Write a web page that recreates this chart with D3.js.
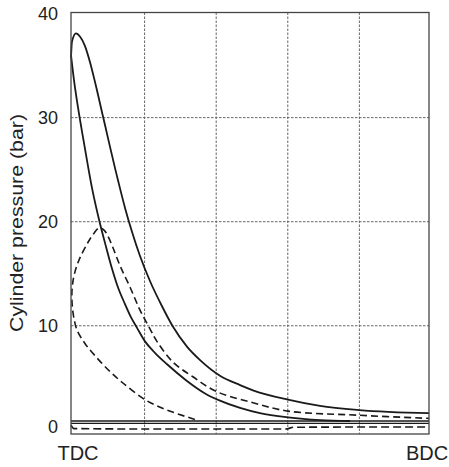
<!DOCTYPE html>
<html>
<head>
<meta charset="utf-8">
<script src="https://cdn.jsdelivr.net/npm/d3@7"></script>
<style>
  body { margin: 0; background: #fff; }
  svg { display: block; font-family: "Liberation Sans", Arial, sans-serif; }
</style>
</head>
<body>
<div id="chart"></div>
<script>
/* Crank angle (deg after TDC) and cylinder pressure (bar) */

// upper solid curve
const outerAngle = [0, 0.5, 2.5, 4.5, 7, 9.6, 12.1, 16.1, 23.6, 27.2, 30.7, 34.7, 39.7, 45.7, 51.3, 58.3, 64.9, 74.9, 85, 91.5, 109.1, 125.2, 144.8, 180];
const outerPressure = [35.8, 37.3, 38.1, 37.8, 36.9, 35.3, 33.4, 30.1, 24.0, 21.3, 19.0, 16.7, 14.3, 11.9, 9.9, 8.0, 6.7, 5.2, 4.3, 3.8, 2.9, 2.3, 1.9, 1.6];

// lower solid curve
const innerAngle = [0, 1.5, 3.5, 6.5, 10.6, 14.6, 17.6, 20.6, 23.6, 27.1, 30.2, 33.2, 37.2, 42.2, 48.3, 58.3, 67.4, 74.9, 85, 95, 109.1, 125.2, 140.3];
const innerPressure = [36.0, 33.6, 31.0, 27.6, 23.2, 19.8, 17.6, 15.5, 13.7, 12.1, 10.8, 9.8, 8.5, 7.4, 6.3, 4.7, 3.5, 2.8, 2.1, 1.6, 1.2, 0.94, 0.85];

// dashed loop (drawn from its lower end, up the left side, over the peak and down)
const loopAngle = [62.3, 48.3, 37.2, 26.1, 19.6, 13.1, 7, 3, 1.5, 0.6, 0.5, 1.5, 4, 8.5, 11.6, 14.1, 16.6, 18.6, 21.1, 24.6, 29.7, 34.7, 39.7, 43.2, 51.3, 61.3, 72.9, 91.5, 109.1, 144.8, 180];
const loopPressure = [1.0, 1.9, 2.9, 4.5, 5.6, 6.9, 8.3, 9.6, 10.7, 12.0, 13.4, 14.8, 16.3, 18.0, 18.9, 19.4, 19.2, 18.6, 17.5, 15.8, 13.7, 11.5, 9.7, 8.5, 6.5, 5.1, 3.7, 2.6, 1.8, 1.4, 1.1];

// flat lines near zero
const lowAngle = [0, 1.5, 40, 108, 112, 180];
const lowPressure = [0.46, 0.12, 0.08, 0.08, 0.25, 0.28];
const exhaustAngle = [0, 180];
const exhaustTop = [0.85, 0.85];
const exhaustBottom = [0.62, 0.62];

// ticks and labels
const yTicks = [0, 10, 20, 30, 40];
const yGrid = [10, 20, 30];
const xGrid = [37, 73, 109, 145];
const xLabels = [{text: "TDC", angle: 0}, {text: "BDC", angle: 180}];

const zip = (a, p) => a.map((d, i) => ({angle: d, p: p[i]}));

const width = 449, height = 467;
const margins = {top: 12.5, right: 20, bottom: 33, left: 71};

const svg = d3.select("#chart")
  .append("svg")
  .attr("width", width)
  .attr("height", height);

/* Scales */
const xScale = d3.scaleLinear()
  .domain([0, 180])
  .range([margins.left, width - margins.right]);

const yScale = d3.scaleLinear()
  .domain([-0.4, 40.1])
  .range([height - margins.bottom, margins.top]);

/* Dotted grid */
const grid = svg.append("g")
  .attr("stroke", "#666")
  .attr("stroke-width", 1)
  .attr("stroke-dasharray", "2.5,1.5");

grid.selectAll("line.h")
  .data(yGrid)
  .join("line")
    .attr("class", "h")
    .attr("x1", xScale(0))
    .attr("x2", xScale(180))
    .attr("y1", d => yScale(d))
    .attr("y2", d => yScale(d));

grid.selectAll("line.v")
  .data(xGrid)
  .join("line")
    .attr("class", "v")
    .attr("x1", d => xScale(d))
    .attr("x2", d => xScale(d))
    .attr("y1", yScale.range()[1])
    .attr("y2", yScale.range()[0]);

/* Curves: the ones that only move right use a monotone curve, the loop a Catmull-Rom */
const lineX = d3.line()
  .curve(d3.curveMonotoneX)
  .x(d => xScale(d.angle))
  .y(d => yScale(d.p));

const lineLoop = d3.line()
  .curve(d3.curveCatmullRom.alpha(0.5))
  .x(d => xScale(d.angle))
  .y(d => yScale(d.p));

const curves = [
  {data: zip(exhaustAngle, exhaustTop), gen: lineX, dash: null, w: 1.3},
  {data: zip(exhaustAngle, exhaustBottom), gen: lineX, dash: null, w: 1.3},
  {data: zip(lowAngle, lowPressure), gen: lineX, dash: "8,4", w: 1.6},
  {data: zip(outerAngle, outerPressure), gen: lineX, dash: null, w: 1.8},
  {data: zip(innerAngle, innerPressure), gen: lineX, dash: null, w: 1.8},
  {data: zip(loopAngle, loopPressure), gen: lineLoop, dash: "7,4", w: 1.6}
];

svg.append("g")
  .selectAll("path")
  .data(curves)
  .join("path")
    .attr("d", d => d.gen(d.data))
    .attr("fill", "none")
    .attr("stroke", "#1a1a1a")
    .attr("stroke-width", d => d.w)
    .attr("stroke-dasharray", d => d.dash);

/* Frame */
svg.append("rect")
  .attr("x", xScale(0))
  .attr("y", yScale.range()[1])
  .attr("width", xScale(180) - xScale(0))
  .attr("height", yScale.range()[0] - yScale.range()[1])
  .attr("fill", "none")
  .attr("stroke", "#444")
  .attr("stroke-width", 1.3);

/* Y tick labels */
svg.append("g")
  .selectAll("text")
  .data(yTicks)
  .join("text")
    .attr("x", 58)
    .attr("y", d => yScale(d) - (d === 0 ? 3 : 0))
    .attr("dy", "0.35em")
    .attr("text-anchor", "end")
    .style("font-size", "18px")
    .style("fill", "#222")
    .text(d => d);

/* X labels */
svg.append("g")
  .selectAll("text")
  .data(xLabels)
  .join("text")
    .attr("x", d => xScale(d.angle) + (d.angle === 0 ? 7 : -2))
    .attr("y", 460)
    .attr("text-anchor", "middle")
    .style("font-size", "20px")
    .style("fill", "#222")
    .text(d => d.text);

/* Y axis title */
svg.append("text")
  .attr("transform", `translate(23, 223) rotate(-90)`)
  .attr("text-anchor", "middle")
  .attr("textLength", 218)
  .attr("lengthAdjust", "spacingAndGlyphs")
  .style("font-size", "18px")
  .style("fill", "#222")
  .text("Cylinder pressure (bar)");
</script>
</body>
</html>
